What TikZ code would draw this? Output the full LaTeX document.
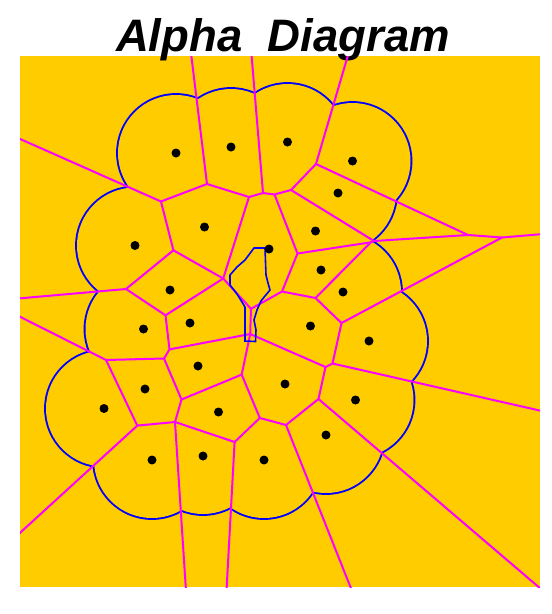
\documentclass[tikz,border=0pt]{standalone}
\usepackage{fontspec}
\setmainfont{Liberation Sans}
\definecolor{bgor}{RGB}{255,204,0}
\definecolor{vmag}{RGB}{255,0,255}
\definecolor{ablue}{RGB}{0,0,255}
\tikzset{
  vedge/.style={draw=vmag, line width=2pt},
  dotnode/.style={circle, fill=black, inner sep=0pt, minimum size=9pt},
  ttl/.style={font=\bfseries\itshape\fontsize{45.5}{45.5}\selectfont, anchor=base, inner sep=0pt}
}
\begin{document}
\begin{tikzpicture}[x=1pt,y=-1pt]
\useasboundingbox (0,0) rectangle (552,614);
\fill[white] (0,0) rectangle (552,614);
\fill[bgor] (20,56) rectangle (540,587);
\node[ttl] (title) at (283,51.5) {Alpha~~Diagram};
% sites
\foreach \n/\x/\y in {1/176/153,2/231/147,3/287.5/142,4/352.5/161,5/338/193,6/204.5/227,
  7/135/245.5,8/315.5/231,9/269/249,10/321/270,11/170/290,12/343/292,13/143.5/329,
  14/190/323,15/310.5/326,16/369/341,17/198/366,18/145/389,19/285/384,20/104/408.5,
  21/355.5/400,22/218.5/412,23/326/435,24/152/460,25/203/456,26/264/460}
  \coordinate (p\n) at (\x,\y);
% Voronoi vertices
\coordinate (A) at (207,184);
\coordinate (B) at (263,193);
\coordinate (C) at (316,164);
\coordinate (D) at (161,201.5);
\coordinate (E) at (173.4,250.3);
\coordinate (F) at (126,289);
\coordinate (G) at (106,360);
\coordinate (H) at (137.3,425.6);
\coordinate (I) at (175,422);
\coordinate (J) at (234.6,442);
\coordinate (K) at (286,425);
\coordinate (R) at (249,197);
\coordinate (S) at (274.5,194.5);
\coordinate (T) at (291,190);
\coordinate (U) at (297.5,253.5);
\coordinate (V) at (282,291.5);
\coordinate (W) at (315.5,298);
\coordinate (X) at (341.5,323);
\coordinate (Y) at (332.5,363.5);
\coordinate (Z) at (325.5,367);
\coordinate (AA) at (318.5,399);
\coordinate (CC) at (259.8,418);
\coordinate (DD) at (241.7,374.6);
\coordinate (EE) at (181.5,399.5);
\coordinate (G1) at (165.5,315.3);
\coordinate (H1a) at (169.5,349.4);
\coordinate (H1b) at (164,358.5);
\coordinate (Vc) at (223.2,278.5);
\coordinate (NT) at (251,308.8);
\coordinate (NB) at (250.2,334);
\coordinate (Q1) at (374,241);
\coordinate (Q2) at (370.8,242.3);
\coordinate (P) at (468,235);
\coordinate (N) at (502,237.5);
% far ends of unbounded edges
\coordinate (e1) at (190,45);
\coordinate (e2) at (250.7,45);
\coordinate (e3) at (351,45);
\coordinate (e4) at (10,134.5);
\coordinate (e5) at (10,299.2);
\coordinate (e6) at (10,311.7);
\coordinate (e7) at (10,542);
\coordinate (e8) at (186.6,600);
\coordinate (e9) at (226,600);
\coordinate (e10) at (355.6,600);
\coordinate (e11) at (555,601);
\coordinate (e12) at (555,414);
\coordinate (e13) at (555,233);
% hole of the alpha shape
\coordinate (h1) at (254,248);
\coordinate (h2) at (265,248);
\coordinate (h3) at (266,275);
\coordinate (h4) at (268,283);
\coordinate (h5) at (270,290);
\coordinate (h6) at (265,296);
\coordinate (h7) at (261,301);
\coordinate (h8) at (257,310);
\coordinate (h9) at (254,320);
\coordinate (h10) at (256,330);
\coordinate (h11) at (255.5,341.5);
\coordinate (h12) at (245,341);
\coordinate (h13) at (245,307);
\coordinate (h14) at (242,302);
\coordinate (h15) at (237,294);
\coordinate (h16) at (230,285);
\coordinate (h17) at (230,275);
\coordinate (h18) at (237,267);
\coordinate (h19) at (245,260);
\begin{scope}
\clip (20,56) rectangle (540,587);
% union of disks boundary
\foreach \n in {1,...,26} \draw[ablue, line width=3.8pt] (p\n) circle[radius=58pt];
\foreach \n in {1,...,26} \fill[bgor] (p\n) circle[radius=58pt];
\fill[bgor] (h1) -- (h2) -- (h3) -- (h4) -- (h5) -- (h6) -- (h7) -- (h8) -- (h9) -- (h10)
  -- (h11) -- (h12) -- (h13) -- (h14) -- (h15) -- (h16) -- (h17) -- (h18) -- (h19) -- cycle;
% Voronoi edges
\draw[vedge] (A) -- (e1);
\draw[vedge] (B) -- (e2);
\draw[vedge] (C) -- (e3);
\draw[vedge] (D) -- (e4);
\draw[vedge] (F) -- (e5);
\draw[vedge] (G) -- (e6);
\draw[vedge] (H) -- (e7);
\draw[vedge] (I) -- (e8);
\draw[vedge] (J) -- (e9);
\draw[vedge] (K) -- (e10);
\draw[vedge] (AA) -- (e11);
\draw[vedge] (Y) -- (e12);
\draw[vedge] (N) -- (e13);
\draw[vedge] (A) -- (D);
\draw[vedge] (A) -- (R);
\draw[vedge] (R) -- (B);
\draw[vedge] (B) -- (S);
\draw[vedge] (S) -- (T);
\draw[vedge] (T) -- (C);
\draw[vedge] (C) -- (P);
\draw[vedge] (P) -- (N);
\draw[vedge] (P) -- (Q1);
\draw[vedge] (T) -- (Q1);
\draw[vedge] (Q1) -- (Q2);
\draw[vedge] (S) -- (U);
\draw[vedge] (U) -- (Q2);
\draw[vedge] (U) -- (V);
\draw[vedge] (V) -- (W);
\draw[vedge] (W) -- (Q2);
\draw[vedge] (W) -- (X);
\draw[vedge] (X) -- (N);
\draw[vedge] (X) -- (Y);
\draw[vedge] (Y) -- (Z);
\draw[vedge] (Z) -- (NB);
\draw[vedge] (Z) -- (AA);
\draw[vedge] (AA) -- (K);
\draw[vedge] (K) -- (CC);
\draw[vedge] (CC) -- (DD);
\draw[vedge] (CC) -- (J);
\draw[vedge] (J) -- (I);
\draw[vedge] (I) -- (EE);
\draw[vedge] (I) -- (H);
\draw[vedge] (H) -- (G);
\draw[vedge] (G) -- (H1b);
\draw[vedge] (H1b) -- (H1a);
\draw[vedge] (H1b) -- (EE);
\draw[vedge] (EE) -- (DD);
\draw[vedge] (DD) -- (NB);
\draw[vedge] (NB) -- (H1a);
\draw[vedge] (NB) -- (NT);
\draw[vedge] (NT) -- (V);
\draw[vedge] (NT) -- (Vc);
\draw[vedge] (Vc) -- (R);
\draw[vedge] (Vc) -- (E);
\draw[vedge] (Vc) -- (G1);
\draw[vedge] (E) -- (D);
\draw[vedge] (E) -- (F);
\draw[vedge] (F) -- (G1);
\draw[vedge] (G1) -- (H1a);
\end{scope}
\draw[ablue, line width=1.6pt] (h1) -- (h2) -- (h3) -- (h4) -- (h5) -- (h6) -- (h7) -- (h8) -- (h9) -- (h10)
  -- (h11) -- (h12) -- (h13) -- (h14) -- (h15) -- (h16) -- (h17) -- (h18) -- (h19) -- cycle;
\foreach \n in {1,...,26} \node[dotnode] (d\n) at (p\n) {};
\end{tikzpicture}
\end{document}
